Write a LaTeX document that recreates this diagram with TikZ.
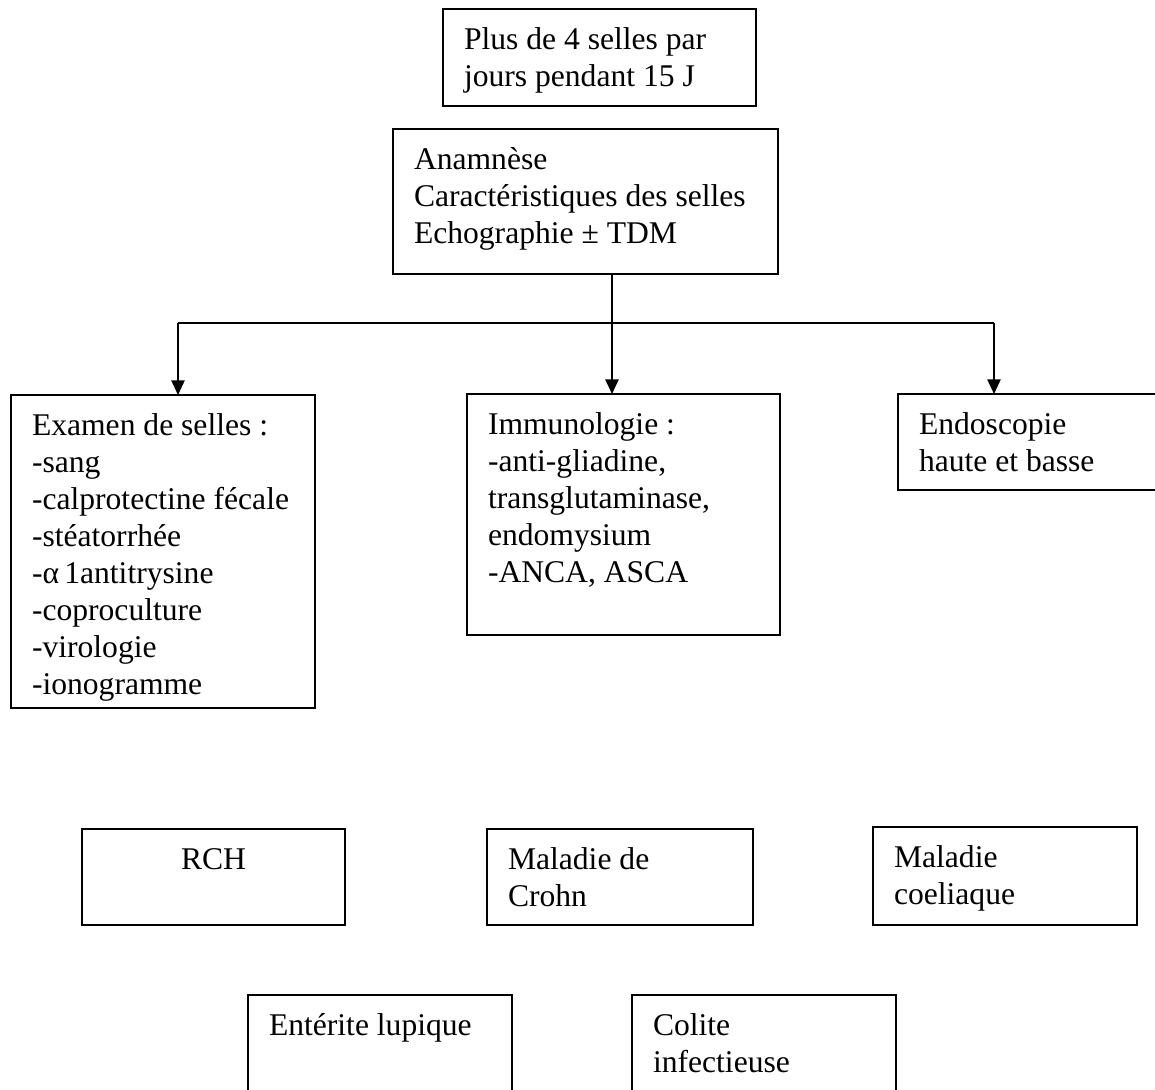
\documentclass[tikz,border=0pt]{standalone}
\usepackage{fontspec}
\setmainfont{Liberation Serif}
\usetikzlibrary{arrows.meta}
\newcommand{\bxt}[3]{\parbox[c][#2][t]{#1}{\fontsize{23.7}{27.75}\selectfont\raggedright\vspace*{10.6pt}\strut #3}}
\newcommand{\bxc}[3]{\parbox[c][#2][t]{#1}{\fontsize{23.7}{27.75}\selectfont\centering\vspace*{10.6pt}\strut #3}}
\begin{document}
\begin{tikzpicture}[x=0.75pt,y=-0.75pt,
  bx/.style={draw, line width=1.1pt, inner xsep=15.75pt, inner ysep=0pt, outer sep=0pt, anchor=north west},
  ln/.style={line width=1.1pt},
  arr/.style={line width=1.1pt, -{Triangle[length=11pt,width=10pt]}}]
\useasboundingbox (0,0) rectangle (1155,1089);
\clip (0,0) rectangle (1155,1089);
% top
\node[bx] (A) at (443,9) {\bxt{203.25pt}{72.75pt}{\mbox{Plus de 4 selles par}\\ jours pendant 15 J}};
\node[bx] (B) at (393,129) {\bxt{257.25pt}{108.75pt}{Anamnèse\\ \mbox{Caractéristiques des selles}\\ Echographie ± TDM}};
% middle row
\node[bx] (C) at (11,395) {\bxt{196.5pt}{234.75pt}{\mbox{Examen de selles :}\\ -sang\\ \mbox{-calprotectine fécale}\\ -stéatorrhée\\ -α\,1antitrysine\\ -coproculture\\ -virologie\\ -ionogramme}};
\node[bx] (D) at (467,394) {\bxt{203.25pt}{180.75pt}{Immunologie :\\ -anti-gliadine,\\ \mbox{transglutaminase,}\\ endomysium\\ -ANCA, ASCA}};
\node[bx] (E) at (898,394) {\bxt{180pt}{72pt}{Endoscopie\\ haute et basse}};
% diagnoses
\node[bx] (F) at (82,829) {\bxc{165.75pt}{72pt}{RCH}};
\node[bx] (G) at (487,829) {\bxt{168pt}{72pt}{Maladie de\\ Crohn}};
\node[bx] (H) at (873,827) {\bxt{166.5pt}{73.5pt}{Maladie\\ coeliaque}};
\node[bx] (I) at (248,995) {\bxt{166.5pt}{86.25pt}{Entérite lupique}};
\node[bx] (J) at (632,995) {\bxt{166.5pt}{86.25pt}{Colite\\ infectieuse}};
% connectors
\coordinate (jm) at (612,323);
\coordinate (jl) at (178,323);
\coordinate (jr) at (994,323);
\draw[ln] (jm |- B.south) -- (jm);
\draw[ln] (jl) -- (jr);
\draw[arr] (jm) -- (jm |- D.north);
\draw[arr] (jl) -- (jl |- C.north);
\draw[arr] (jr) -- (jr |- E.north);
\end{tikzpicture}
\end{document}
